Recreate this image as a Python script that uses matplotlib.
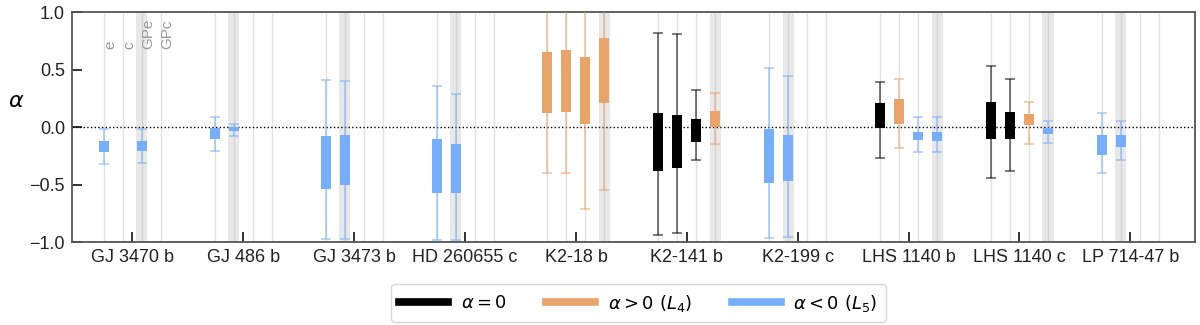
import numpy as np
import matplotlib
matplotlib.use("Agg")
import matplotlib.pyplot as plt
from matplotlib.lines import Line2D

nan = np.nan
planets = ['GJ 3470 b', 'GJ 486 b', 'GJ 3473 b', 'HD 260655 c', 'K2-18 b',
           'K2-141 b', 'K2-199 c', 'LHS 1140 b', 'LHS 1140 c', 'LP 714-47 b']
models = ['e', 'c', 'GPe', 'GPc']

# per planet, per model (e, c, GPe, GPc)
whisk_lo = [[-0.32, nan, -0.31, nan],
            [-0.21, -0.08, nan, nan],
            [-0.975, -0.97, nan, nan],
            [-0.985, -0.985, nan, nan],
            [-0.395, -0.40, -0.715, -0.55],
            [-0.935, -0.92, -0.29, -0.15],
            [-0.965, -0.955, nan, nan],
            [-0.27, -0.18, -0.22, -0.22],
            [-0.445, -0.38, -0.15, -0.135],
            [-0.395, -0.29, nan, nan]]
box_lo = [[-0.215, nan, -0.21, nan],
          [-0.10, -0.035, nan, nan],
          [-0.54, -0.50, nan, nan],
          [-0.57, -0.57, nan, nan],
          [0.12, 0.13, 0.03, 0.205],
          [-0.38, -0.36, -0.13, 0.003],
          [-0.485, -0.47, nan, nan],
          [-0.01, 0.025, -0.115, -0.125],
          [-0.105, -0.105, 0.015, -0.06],
          [-0.24, -0.17, nan, nan]]
box_hi = [[-0.125, nan, -0.12, nan],
          [-0.012, 0.0, nan, nan],
          [-0.08, -0.07, nan, nan],
          [-0.10, -0.15, nan, nan],
          [0.655, 0.67, 0.61, 0.77],
          [0.125, 0.105, 0.07, 0.14],
          [-0.02, -0.065, nan, nan],
          [0.205, 0.24, -0.04, -0.04],
          [0.215, 0.135, 0.11, -0.01],
          [-0.065, -0.065, nan, nan]]
whisk_hi = [[-0.015, nan, -0.02, nan],
            [0.09, 0.03, nan, nan],
            [0.41, 0.40, nan, nan],
            [0.355, 0.29, nan, nan],
            [1.3, 1.3, 1.3, 1.3],
            [0.815, 0.805, 0.32, 0.30],
            [0.51, 0.445, nan, nan],
            [0.395, 0.415, 0.085, 0.09],
            [0.535, 0.415, 0.22, 0.05],
            [0.12, 0.05, nan, nan]]
# 0: alpha = 0, 1: alpha > 0, -1: alpha < 0
category = [[-1, 0, -1, 0],
            [-1, -1, 0, 0],
            [-1, -1, 0, 0],
            [-1, -1, 0, 0],
            [1, 1, 1, 1],
            [0, 0, 0, 1],
            [-1, -1, 0, 0],
            [0, 1, -1, -1],
            [0, 0, 1, -1],
            [-1, -1, 0, 0]]
best_model = [2, 1, 1, 1, 3, 3, 1, 3, 3, 1]

colors = {0: 'black', 1: '#E9A46C', -1: '#78AEF8'}
labels = {0: r'$\alpha=0$', 1: r'$\alpha>0\ (L_4)$', -1: r'$\alpha<0\ (L_5)$'}

step = 0.1715
offsets = (np.arange(len(models)) - 1.5) * step

fig = plt.figure(figsize=(12, 3.25), dpi=100)
ax = fig.add_axes([0.06, 0.255, 0.936, 0.708])

tickfont = 'Liberation Sans'

for i, p in enumerate(planets):
    for j, m in enumerate(models):
        x = i + offsets[j]
        if j == best_model[i]:
            ax.axvspan(x - 0.05, x + 0.05, color='#e8e8e8', lw=0, zorder=0)
            ax.axvline(x, color='#d4d4d4', lw=1.0, zorder=0.5)
        else:
            ax.axvline(x, color='#e2e2e2', lw=1.0, zorder=0.5)
        lo = whisk_lo[i][j]
        if np.isnan(lo):
            continue
        c = colors[category[i][j]]
        q1, q3, hi = box_lo[i][j], box_hi[i][j], whisk_hi[i][j]
        mid = 0.5 * (q1 + q3)
        ax.errorbar([x], [mid], yerr=[[mid - lo], [hi - mid]], fmt='none',
                    ecolor=c, elinewidth=1.2, capsize=3.6, capthick=1.2,
                    alpha=0.6, zorder=3)
        ax.bar([x], [q3 - q1], bottom=[q1], width=0.09, color=c, lw=0,
               zorder=4)

ax.axhline(0, color='black', ls=':', lw=1.0, zorder=2)

for j, m in enumerate(models):
    ax.text(offsets[j] + 0.055, 0.68, m, rotation=90, ha='center',
            va='bottom', color='#999999', fontsize=11, family=tickfont)

ax.set_xlim(-0.545, 9.585)
ax.set_ylim(-1.0, 1.0)
ax.set_xticks(np.arange(len(planets)))
ax.set_xticklabels(planets)
ax.set_yticks([-1.0, -0.5, 0.0, 0.5, 1.0])
ax.set_yticklabels(['\u22121.0', '\u22120.5', '0.0', '0.5', '1.0'])
ax.tick_params(direction='in', length=7, width=1.3, labelsize=13,
               colors='#222222', pad=5)
for lab in ax.get_xticklabels() + ax.get_yticklabels():
    lab.set_family(tickfont)
for s in ax.spines.values():
    s.set_color('#555555')
    s.set_linewidth(1.3)

ax.set_ylabel(r'$\alpha$', rotation=0, fontsize=16)
ax.yaxis.set_label_coords(-0.05, 0.57)

handles = [Line2D([], [], color=colors[k], lw=5.5) for k in (0, 1, -1)]
fig.legend(handles, [labels[k] for k in (0, 1, -1)], loc='upper center',
           bbox_to_anchor=(0.532, 0.125), borderaxespad=0.0, ncol=3,
           fontsize=13, handlelength=2.7, handletextpad=0.7,
           columnspacing=2.2, frameon=True, fancybox=True,
           edgecolor='#cccccc', borderpad=0.45)

fig.savefig('out.png', dpi=100)
